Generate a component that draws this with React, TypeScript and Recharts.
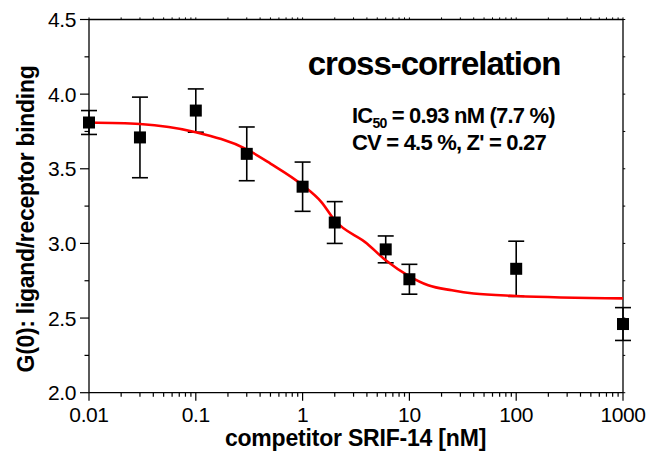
import {
  ComposedChart,
  Customized,
  ErrorBar,
  Line,
  ReferenceLine,
  Scatter,
  XAxis,
  YAxis,
} from 'recharts'

// measured points: competitor concentration [nM], G(0) and its error
const concNM = [0.01, 0.03, 0.1, 0.3, 1, 2, 6, 10, 100, 1000]
const binding = [3.81, 3.71, 3.89, 3.6, 3.38, 3.14, 2.96, 2.76, 2.83, 2.46]
const bindingErr = [0.08, 0.27, 0.145, 0.18, 0.165, 0.14, 0.09, 0.1, 0.185, 0.11]

// fitted curve
const fitConc = [0.01, 0.03, 0.1, 0.3, 0.5, 1, 1.5, 2, 4, 6, 10, 15, 25, 40, 100, 1000]
const fitBinding = [3.81, 3.8, 3.745, 3.63, 3.535, 3.39, 3.277, 3.155, 3.0, 2.887, 2.78, 2.72, 2.686, 2.664, 2.648, 2.632]

const xMajor = [0.01, 0.1, 1, 10, 100, 1000]
const xTickLabels = ['0.01', '0.1', '1', '10', '100', '1000']
const yMajor = [2, 2.5, 3, 3.5, 4, 4.5]
const yTickLabels = ['2.0', '2.5', '3.0', '3.5', '4.0', '4.5']
const yMinor = [2.25, 2.75, 3.25, 3.75, 4.25]

const X_MIN = 0.01
const X_MAX = 1000
const Y_MIN = 2
const Y_MAX = 4.5

const points = concNM.map((x, i) => ({ x, y: binding[i], err: bindingErr[i] }))
const fit = fitConc.map((x, i) => ({ x, y: fitBinding[i] }))

// minor log ticks 2..9 in every decade
const xMinor: number[] = []
xMajor.slice(0, -1).forEach((d) => {
  for (let k = 2; k <= 9; k++) xMinor.push(+(d * k).toPrecision(3))
})
const xTicks = [...xMajor, ...xMinor].sort((a, b) => a - b)
const yTicks = [...yMajor, ...yMinor].sort((a, b) => a - b)

const FONT = '"Liberation Sans", Arial, sans-serif'
const AXIS = { stroke: '#000', strokeWidth: 1.3 }

const isMajorX = (v: number) => xMajor.some((m) => Math.abs(m - v) < 1e-9)
const isMajorY = (v: number) => yMajor.some((m) => Math.abs(m - v) < 1e-9)

function BottomTick({ x, y, payload }: any) {
  const major = isMajorX(payload.value)
  const i = xMajor.findIndex((m) => Math.abs(m - payload.value) < 1e-9)
  return (
    <g>
      <line x1={x} x2={x} y1={y} y2={y + (major ? 8 : 4)} stroke="#000" strokeWidth={1.2} />
      {major && (
        <text x={x} y={y + 29.5} textAnchor="middle" fontSize={21} letterSpacing={-0.4} fontFamily={FONT} fill="#000">
          {xTickLabels[i]}
        </text>
      )}
    </g>
  )
}

function LeftTick({ x, y, payload }: any) {
  const major = isMajorY(payload.value)
  const i = yMajor.findIndex((m) => Math.abs(m - payload.value) < 1e-9)
  return (
    <g>
      <line x1={x} x2={x - (major ? 9 : 4.5)} y1={y} y2={y} stroke="#000" strokeWidth={1.2} />
      {major && (
        <text x={x - 13} y={y} dy="0.36em" textAnchor="end" fontSize={21} letterSpacing={-0.4} fontFamily={FONT} fill="#000">
          {yTickLabels[i]}
        </text>
      )}
    </g>
  )
}

function Square({ cx, cy }: any) {
  return <rect x={cx - 6} y={cy - 6} width={12} height={12} fill="#000" />
}

function Annotations() {
  return (
    <g fontFamily={FONT} fill="#000" fontWeight="bold">
      <text x={434} y={75} textAnchor="middle" fontSize={33} letterSpacing={-1}>
        cross-correlation
      </text>
      <text x={352} y={123} fontSize={22} letterSpacing={-0.8}>
        IC
        <tspan fontSize={14} dy={5}>50</tspan>
        <tspan dy={-5}> = 0.93 nM (7.7 %)</tspan>
      </text>
      <text x={352} y={150} fontSize={22} letterSpacing={-0.8}>
        CV = 4.5 %, Z' = 0.27
      </text>
      <text x={355.5} y={446} textAnchor="middle" fontSize={23} letterSpacing={-0.2}>
        competitor SRIF-14 [nM]
      </text>
      <text
        transform="translate(26,219) rotate(-90)"
        textAnchor="middle"
        dominantBaseline="central"
        fontSize={23}
        letterSpacing={-0.3}
      >
        G(0): ligand/receptor binding
      </text>
    </g>
  )
}

export default function App() {
  return (
    <div style={{ position: 'absolute', left: 0, top: 0, background: '#fff' }}>
      <ComposedChart width={650} height={456} margin={{ top: 19.5, right: 27, left: 0, bottom: 0 }}>
        <XAxis
          dataKey="x"
          type="number"
          scale="log"
          domain={[X_MIN, X_MAX]}
          ticks={xTicks}
          interval={0}
          height={63.3}
          tickSize={0}
          tickMargin={0}
          axisLine={AXIS}
          tick={<BottomTick />}
        />
        <YAxis
          dataKey="y"
          type="number"
          domain={[Y_MIN, Y_MAX]}
          ticks={yTicks}
          interval={0}
          width={89}
          tickSize={0}
          tickMargin={0}
          axisLine={AXIS}
          tick={<LeftTick />}
        />
        {/* top and right frame with small outward ticks */}
        <ReferenceLine y={Y_MAX} stroke="#000" strokeWidth={1.3} ifOverflow="visible" />
        <ReferenceLine x={X_MAX} stroke="#000" strokeWidth={1.3} ifOverflow="visible" />
        {xTicks.map((v) => (
          <ReferenceLine
            key={'t' + v}
            segment={[{ x: v, y: Y_MAX }, { x: v, y: Y_MAX + 0.014 }]}
            stroke="#000"
            strokeWidth={1}
            ifOverflow="visible"
          />
        ))}
        {yTicks.map((v) => (
          <ReferenceLine
            key={'r' + v}
            segment={[{ x: X_MAX, y: v }, { x: X_MAX * 1.05, y: v }]}
            stroke="#000"
            strokeWidth={1}
            ifOverflow="visible"
          />
        ))}
        <Scatter data={points} dataKey="y" shape={<Square />} isAnimationActive={false}>
          <ErrorBar dataKey="err" direction="y" width={8} stroke="#000" strokeWidth={1.6} isAnimationActive={false} />
        </Scatter>
        <Line
          data={fit}
          dataKey="y"
          type="monotone"
          stroke="#ff0000"
          strokeWidth={2.6}
          dot={false}
          activeDot={false}
          isAnimationActive={false}
        />
        <Customized component={Annotations} />
      </ComposedChart>
    </div>
  )
}
